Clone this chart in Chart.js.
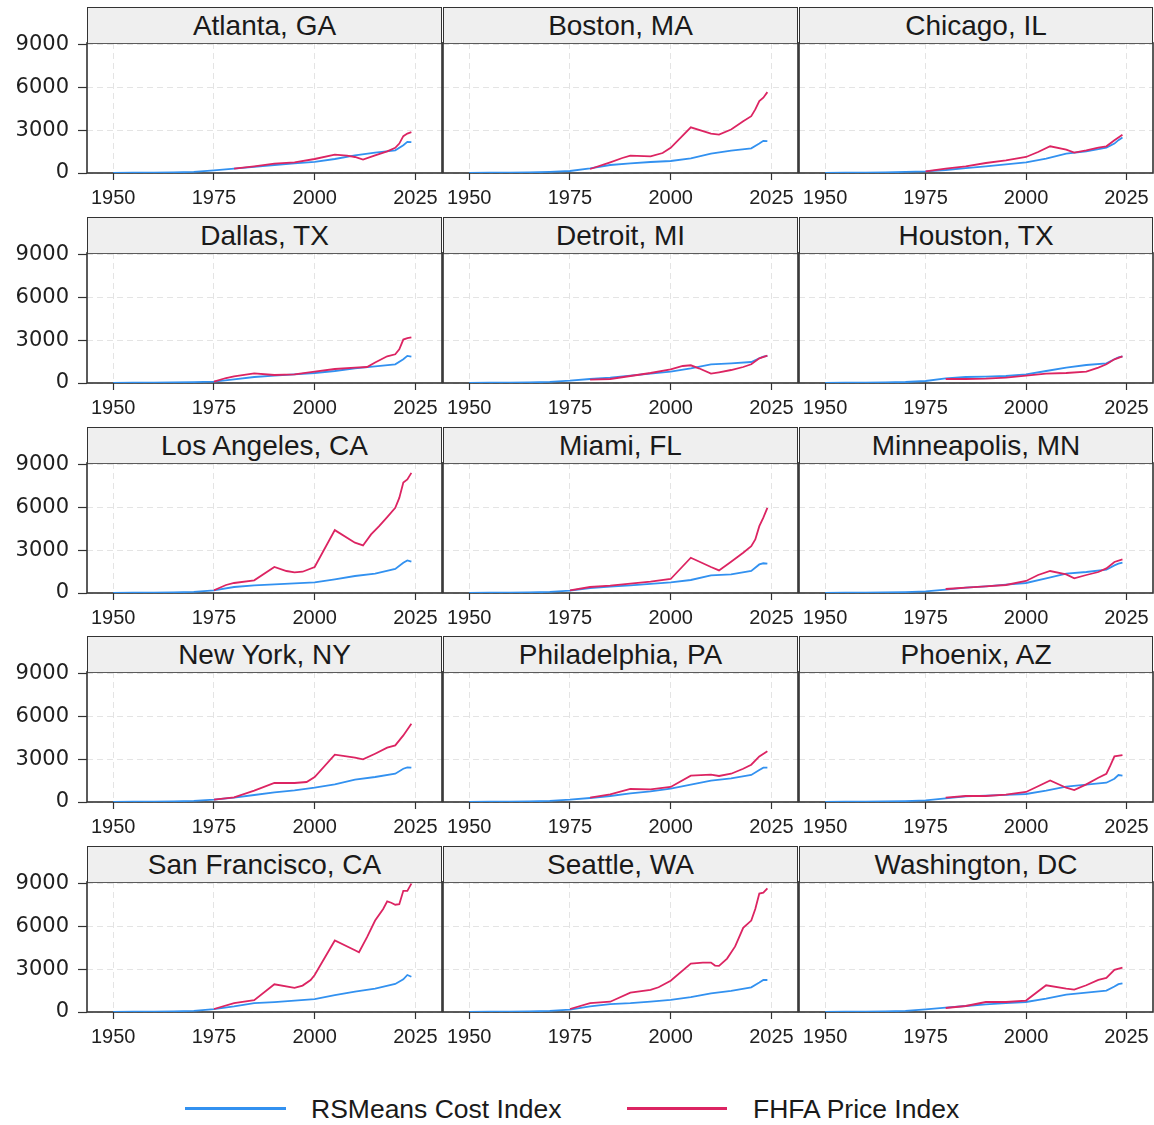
<!DOCTYPE html>
<html><head><meta charset="utf-8">
<script src="https://cdn.jsdelivr.net/npm/chart.js@4.4.1/dist/chart.umd.min.js"></script>
<style>
html,body{margin:0;padding:0;background:#fff;overflow:hidden;}
#page{position:relative;width:1154px;height:1125px;background:#fff;}
canvas{position:absolute;}
.strip{position:absolute;box-sizing:border-box;background:#efefef;border:1.5px solid #333;border-bottom:none;
 font-family:'Liberation Sans',Arial,sans-serif;font-size:28px;color:#1a1a1a;text-align:center;line-height:35px;white-space:nowrap;}
.leg{position:absolute;font-family:'Liberation Sans',Arial,sans-serif;font-size:26.5px;color:#1a1a1a;line-height:30px;white-space:nowrap;}
.legline{position:absolute;height:3px;}
</style>
</head><body><div id="page"></div>
<script>
// ---------- data ----------
const CITIES = ["Atlanta, GA","Boston, MA","Chicago, IL","Dallas, TX","Detroit, MI","Houston, TX",
  "Los Angeles, CA","Miami, FL","Minneapolis, MN","New York, NY","Philadelphia, PA","Phoenix, AZ",
  "San Francisco, CA","Seattle, WA","Washington, DC"];
const X_TICKS = [1950,1975,2000,2025];
const Y_TICKS = [0,3000,6000,9000];
const SERIES_NAMES = ["RSMeans Cost Index","FHFA Price Index"];

const RS_YEARS = [1950,1955,1960,1965,1970,1975,1980,1985,1990,1995,2000,2005,2010,2015,2020,2022,2023,2024];
const RS_ATLANTA      = [15,22,30,45,80,180,310,430,560,670,780,980,1240,1430,1590,1940,2180,2160];
const RS_BOSTON       = [15,22,30,45,80,140,330,560,680,770,840,1030,1360,1570,1730,2060,2250,2230];
const RS_CHICAGO      = [15,22,30,45,75,120,210,340,470,610,750,1000,1360,1520,1780,2060,2300,2480];
const RS_DALLAS       = [15,20,28,40,65,100,260,420,515,600,700,840,1030,1170,1310,1660,1900,1850];
const RS_DETROIT      = [15,22,30,45,80,160,280,375,515,660,800,1030,1310,1380,1470,1730,1850,1900];
const RS_HOUSTON      = [15,20,28,40,70,140,330,420,445,490,610,840,1080,1260,1380,1660,1800,1870];
const RS_LOSANGELES   = [15,22,30,45,80,190,420,540,610,680,745,955,1190,1350,1680,2120,2280,2190];
const RS_MIAMI        = [15,22,30,45,75,160,350,450,540,640,745,910,1230,1300,1540,2000,2080,2050];
const RS_MINNEAPOLIS  = [15,20,28,40,65,120,230,370,465,580,700,1025,1350,1470,1630,1930,2050,2120];
const RS_NEWYORK      = [15,22,30,45,80,160,300,490,680,815,1000,1235,1560,1750,1980,2330,2420,2400];
const RS_PHILADELPHIA = [15,22,30,45,80,160,280,420,605,745,930,1210,1490,1650,1890,2240,2400,2400];
const RS_PHOENIX      = [15,20,28,40,65,120,260,400,445,500,560,790,1070,1210,1350,1630,1890,1850];
const RS_SANFRANCISCO = [15,22,30,45,85,200,390,620,690,790,900,1180,1430,1640,1960,2290,2590,2470];
const RS_SEATTLE      = [15,22,30,45,80,160,390,550,620,730,850,1040,1310,1480,1730,2060,2240,2240];
const RS_WASHINGTON   = [15,22,30,45,80,190,300,420,540,620,700,940,1220,1360,1500,1780,1950,2010];

const FHFA_ATLANTA = [[1980,300],[1985,470],[1990,655],[1995,750],[2000,980],[2005,1290],[2008,1220],[2010,1120],[2012,940],[2015,1240],[2018,1520],[2020,1760],[2021,2060],[2022,2580],[2023,2760],[2024,2860]];
const FHFA_BOSTON = [[1980,280],[1985,750],[1988,1050],[1990,1220],[1995,1170],[1998,1400],[2000,1760],[2005,3200],[2010,2760],[2012,2690],[2015,3040],[2018,3630],[2020,3980],[2021,4450],[2022,5030],[2023,5270],[2024,5660]];
const FHFA_CHICAGO = [[1975,120],[1980,300],[1985,470],[1990,700],[1995,890],[2000,1120],[2003,1470],[2006,1870],[2010,1640],[2012,1430],[2015,1590],[2018,1780],[2020,1870],[2022,2290],[2024,2670]];
const FHFA_DALLAS = [[1975,100],[1978,350],[1980,470],[1985,680],[1990,560],[1995,610],[2000,800],[2005,980],[2010,1080],[2013,1120],[2015,1430],[2018,1870],[2020,2010],[2021,2360],[2022,3040],[2023,3140],[2024,3200]];
const FHFA_DETROIT = [[1980,235],[1985,280],[1990,490],[1995,700],[2000,960],[2003,1190],[2005,1240],[2007,1030],[2010,655],[2012,750],[2015,910],[2018,1120],[2020,1310],[2022,1730],[2024,1920]];
const FHFA_HOUSTON = [[1980,280],[1985,280],[1990,300],[1995,375],[2000,515],[2005,655],[2010,700],[2015,800],[2018,1080],[2020,1310],[2022,1660],[2024,1870]];
const FHFA_LOSANGELES = [[1975,190],[1978,560],[1980,700],[1985,890],[1990,1820],[1993,1540],[1995,1445],[1997,1490],[2000,1820],[2005,4400],[2010,3520],[2012,3330],[2014,4100],[2016,4680],[2018,5310],[2020,5960],[2021,6660],[2022,7740],[2023,7950],[2024,8410]];
const FHFA_MIAMI = [[1975,190],[1980,420],[1985,510],[1990,650],[1995,790],[2000,980],[2005,2470],[2010,1820],[2012,1580],[2015,2190],[2018,2820],[2020,3280],[2021,3750],[2022,4680],[2023,5270],[2024,5960]];
const FHFA_MINNEAPOLIS = [[1980,280],[1985,370],[1990,465],[1995,560],[2000,840],[2003,1260],[2006,1540],[2010,1300],[2012,1025],[2015,1260],[2018,1470],[2020,1720],[2022,2170],[2024,2350]];
const FHFA_NEWYORK = [[1975,160],[1980,330],[1985,790],[1990,1330],[1995,1330],[1998,1400],[2000,1750],[2005,3310],[2010,3100],[2012,2980],[2015,3380],[2018,3800],[2020,3960],[2022,4660],[2024,5480]];
const FHFA_PHILADELPHIA = [[1980,300],[1985,535],[1990,910],[1995,890],[2000,1050],[2005,1840],[2010,1910],[2012,1820],[2015,1980],[2018,2330],[2020,2610],[2022,3190],[2024,3560]];
const FHFA_PHOENIX = [[1980,300],[1985,420],[1990,420],[1995,515],[2000,700],[2003,1100],[2006,1510],[2010,1000],[2012,840],[2015,1235],[2018,1700],[2020,1980],[2021,2560],[2022,3190],[2024,3285]];
const FHFA_SANFRANCISCO = [[1975,210],[1980,620],[1985,830],[1990,1940],[1995,1690],[1997,1850],[1999,2240],[2000,2590],[2005,5010],[2010,4320],[2011,4180],[2013,5240],[2015,6400],[2017,7210],[2018,7740],[2019,7650],[2020,7510],[2021,7550],[2022,8480],[2023,8480],[2024,8990]];
const FHFA_SEATTLE = [[1975,210],[1980,620],[1985,720],[1990,1360],[1995,1550],[1997,1730],[2000,2190],[2005,3390],[2008,3460],[2010,3460],[2011,3250],[2012,3230],[2014,3740],[2016,4590],[2018,5890],[2020,6400],[2021,7210],[2022,8290],[2023,8360],[2024,8660]];
const FHFA_WASHINGTON = [[1980,280],[1985,420],[1990,700],[1995,700],[2000,800],[2005,1870],[2010,1640],[2012,1570],[2015,1870],[2018,2250],[2020,2390],[2022,2950],[2024,3110]];

const RS_BY_CITY = [RS_ATLANTA,RS_BOSTON,RS_CHICAGO,RS_DALLAS,RS_DETROIT,RS_HOUSTON,RS_LOSANGELES,RS_MIAMI,
  RS_MINNEAPOLIS,RS_NEWYORK,RS_PHILADELPHIA,RS_PHOENIX,RS_SANFRANCISCO,RS_SEATTLE,RS_WASHINGTON];
const FHFA_BY_CITY = [FHFA_ATLANTA,FHFA_BOSTON,FHFA_CHICAGO,FHFA_DALLAS,FHFA_DETROIT,FHFA_HOUSTON,FHFA_LOSANGELES,FHFA_MIAMI,
  FHFA_MINNEAPOLIS,FHFA_NEWYORK,FHFA_PHILADELPHIA,FHFA_PHOENIX,FHFA_SANFRANCISCO,FHFA_SEATTLE,FHFA_WASHINGTON];

// ---------- style / layout ----------
const BLUE = '#3291f0', PINK = '#dc2462';
const GRID = '#e4e4e4', FRAME = '#333333', TEXT = '#1f1f1f';
const PLOT_L = [87,443,799], PLOT_R = [442,798,1153];
const PLOT_T = [43,253,463,672,882], PLOT_H = 130, STRIP_H = 36;
const X_MIN = 1943.5, X_MAX = 2031.6, Y_MIN = 0, Y_MAX = 9100;

const page = document.getElementById('page');

const panelBox = {
  id: 'panelBox',
  beforeDatasetsDraw(chart) {
    const a = chart.chartArea, ctx = chart.ctx;
    ctx.save();
    ctx.strokeStyle = FRAME; ctx.lineWidth = 1.6;
    ctx.strokeRect(a.left, a.top, a.right - a.left, a.bottom - a.top);
    ctx.restore();
  }
};

CITIES.forEach((city, i) => {
  const r = Math.floor(i / 3), c = i % 3;
  const padT = 30, padR = 3, padL = c === 0 ? 0 : 3, xAxisH = 46;
  const cl = c === 0 ? 0 : PLOT_L[c] - padL;
  const ct = PLOT_T[r] - padT;
  const cw = PLOT_R[c] + padR - cl;
  const ch = padT + PLOT_H + xAxisH;

  const strip = document.createElement('div');
  strip.className = 'strip';
  strip.textContent = city;
  strip.style.left = PLOT_L[c] + 'px';
  strip.style.top = (PLOT_T[r] - STRIP_H) + 'px';
  strip.style.width = (PLOT_R[c] - PLOT_L[c]) + 'px';
  strip.style.height = STRIP_H + 'px';

  const cv = document.createElement('canvas');
  cv.width = cw; cv.height = ch;
  cv.style.left = cl + 'px'; cv.style.top = ct + 'px';
  cv.style.width = cw + 'px'; cv.style.height = ch + 'px';
  page.appendChild(cv);
  page.appendChild(strip);

  new Chart(cv, {
    type: 'line',
    data: {
      datasets: [
        { label: SERIES_NAMES[0], data: RS_YEARS.map((y, k) => ({ x: y, y: RS_BY_CITY[i][k] })),
          borderColor: BLUE, borderWidth: 1.8, pointRadius: 0, tension: 0, fill: false, order: 1 },
        { label: SERIES_NAMES[1], data: FHFA_BY_CITY[i].map(([x, y]) => ({ x, y })),
          borderColor: PINK, borderWidth: 1.8, pointRadius: 0, tension: 0, fill: false, order: 0 }
      ]
    },
    options: {
      responsive: false, animation: false, events: [], devicePixelRatio: 1,
      layout: { padding: { left: padL, top: padT, right: padR, bottom: 0 } },
      plugins: { legend: { display: false }, tooltip: { enabled: false } },
      scales: {
        x: {
          type: 'linear', min: X_MIN, max: X_MAX,
          afterBuildTicks: s => { s.ticks = X_TICKS.map(v => ({ value: v })); },
          afterFit: s => { s.height = xAxisH; },
          grid: { color: GRID, lineWidth: 1, tickColor: FRAME, tickLength: 7, tickWidth: 1.2, tickBorderDash: [] },
          border: { display: false, dash: [6, 4] },
          ticks: { font: { family: "'Liberation Sans', Arial, sans-serif", size: 20 }, color: TEXT, padding: 6,
                   maxRotation: 0, autoSkip: false, callback: v => String(v) }
        },
        y: {
          type: 'linear', min: Y_MIN, max: Y_MAX,
          afterBuildTicks: s => { s.ticks = Y_TICKS.map(v => ({ value: v })); },
          afterFit: s => { s.width = c === 0 ? PLOT_L[0] : 0; },
          grid: { color: GRID, lineWidth: 1, tickColor: FRAME, tickLength: 9, tickWidth: 1.2, tickBorderDash: [],
                  drawTicks: c === 0 },
          border: { display: false, dash: [6, 4] },
          ticks: { display: c === 0, font: { family: "'DejaVu Sans', sans-serif", size: 21 }, color: TEXT, padding: 9,
                   callback: v => String(v) }
        }
      }
    },
    plugins: [panelBox]
  });
});

// ---------- legend ----------
const LEG = [
  { name: SERIES_NAMES[0], color: BLUE, x1: 185, x2: 286, tx: 311 },
  { name: SERIES_NAMES[1], color: PINK, x1: 627, x2: 727, tx: 753 }
];
LEG.forEach(l => {
  const ln = document.createElement('div');
  ln.className = 'legline';
  ln.style.left = l.x1 + 'px'; ln.style.width = (l.x2 - l.x1) + 'px';
  ln.style.top = '1107px'; ln.style.background = l.color;
  page.appendChild(ln);
  const t = document.createElement('div');
  t.className = 'leg';
  t.textContent = l.name;
  t.style.left = l.tx + 'px'; t.style.top = '1094px';
  page.appendChild(t);
});
</script>
</body></html>
